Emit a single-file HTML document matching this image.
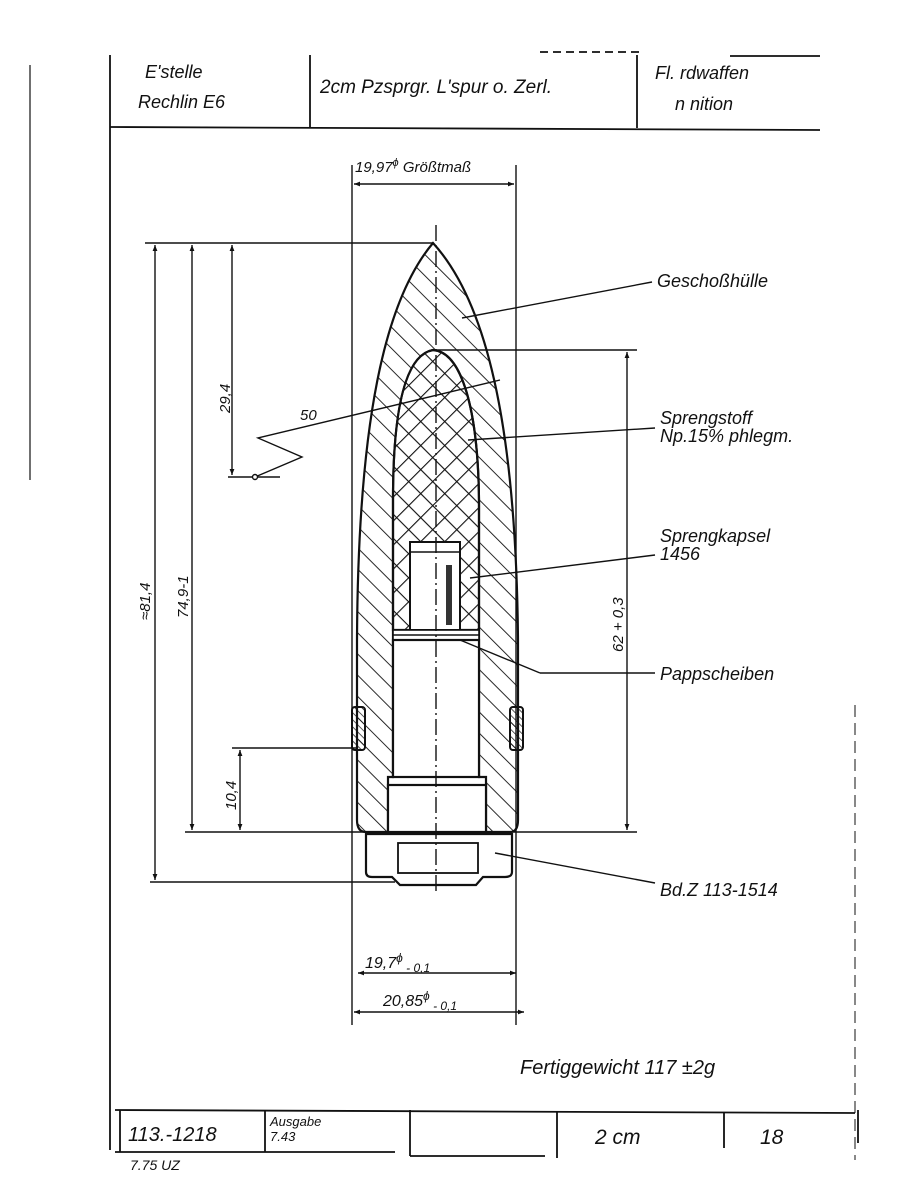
<!DOCTYPE html>
<html><head><meta charset="utf-8"><style>
html,body{margin:0;padding:0;background:#fff;}
svg{display:block;}
text{font-family:"Liberation Sans",sans-serif;font-style:italic;fill:#111;}
</style></head><body>
<svg width="913" height="1200" viewBox="0 0 913 1200" xmlns="http://www.w3.org/2000/svg">
<defs>
<pattern id="h1" width="15" height="15" patternUnits="userSpaceOnUse" patternTransform="rotate(-45)">
<line x1="0" y1="0" x2="0" y2="15" stroke="#111" stroke-width="1.8"/></pattern>
<pattern id="h2" width="17" height="17" patternUnits="userSpaceOnUse" patternTransform="rotate(45)">
<line x1="0" y1="0" x2="0" y2="17" stroke="#111" stroke-width="2.2"/><line x1="0" y1="0" x2="17" y2="0" stroke="#111" stroke-width="2.2"/></pattern>
<pattern id="h3" width="5" height="5" patternUnits="userSpaceOnUse" patternTransform="rotate(-45)">
<line x1="0" y1="0" x2="0" y2="5" stroke="#111" stroke-width="1.4"/></pattern>
<marker id="a" viewBox="0 0 10 10" refX="10" refY="5" markerWidth="10" markerHeight="6" orient="auto-start-reverse" markerUnits="userSpaceOnUse"><path d="M0,1 L10,5 L0,9 z" fill="#111"/></marker>
</defs>
<g stroke="#111" fill="none" stroke-width="1.8">
<line x1="110" y1="55" x2="110" y2="1150"/>
<line x1="110" y1="127" x2="820" y2="130"/>
<line x1="310" y1="55" x2="310" y2="127"/>
<line x1="637" y1="55" x2="637" y2="128"/>
<line x1="540" y1="52" x2="640" y2="52" stroke-dasharray="8 5"/>
<line x1="730" y1="56" x2="820" y2="56"/>
<line x1="30" y1="65" x2="30" y2="480" stroke-width="1.2"/>
<line x1="855" y1="705" x2="855" y2="1160" stroke-width="1" stroke-dasharray="12 6"/>
<line x1="115" y1="1110" x2="855" y2="1113"/>
<line x1="115" y1="1152" x2="395" y2="1152"/>
<line x1="410" y1="1156" x2="545" y2="1156"/>
<line x1="120" y1="1110" x2="120" y2="1152"/>
<line x1="265" y1="1110" x2="265" y2="1152"/>
<line x1="410" y1="1110" x2="410" y2="1156"/>
<line x1="557" y1="1112" x2="557" y2="1158"/>
<line x1="724" y1="1112" x2="724" y2="1148"/>
<line x1="858" y1="1110" x2="858" y2="1143"/>
</g>
<path d="M433,243 C385,300 358,420 357,640 L357,820 Q357,832 366,832 L510,832 Q518,832 518,820 L518,640 C516,420 485,300 433,243 Z M433,350 C405,355 393,410 393,500 L393,777 L388,777 L388,832 L486,832 L486,777 L479,777 L479,500 C478,410 462,352 433,350 Z" fill="url(#h1)" fill-rule="evenodd" stroke="#111" stroke-width="2.2"/>
<path d="M433,350 C405,355 393,410 393,500 L393,630 L479,630 L479,500 C478,410 462,352 433,350 Z" fill="url(#h2)" stroke="#111" stroke-width="2.2"/>
<rect x="410" y="542" width="50" height="88" fill="#fff" stroke="#111" stroke-width="2"/>
<line x1="410" y1="552" x2="460" y2="552" stroke="#111" stroke-width="1.5"/>
<path d="M446,565 L452,565 L452,625 L446,625 Z" fill="#333"/>
<rect x="393" y="630" width="86" height="10" fill="#fff" stroke="#111" stroke-width="1.6"/>
<line x1="393" y1="635" x2="479" y2="635" stroke="#111" stroke-width="1.5"/>
<rect x="393" y="640" width="86" height="137" fill="#fff" stroke="#111" stroke-width="2.2"/>
<rect x="388" y="785" width="98" height="47" fill="#fff" stroke="#111" stroke-width="2.2"/>
<rect x="352" y="707" width="13" height="43" rx="3" fill="url(#h3)" stroke="#111" stroke-width="2"/>
<rect x="510" y="707" width="13" height="43" rx="3" fill="url(#h3)" stroke="#111" stroke-width="2"/>
<path d="M366,834 L512,834 L512,872 Q512,877 505,877 L483,877 L476,885 L400,885 L392,877 L372,877 Q366,877 366,872 Z" fill="#fff" stroke="#111" stroke-width="2.2"/>
<rect x="398" y="843" width="80" height="30" fill="none" stroke="#111" stroke-width="1.8"/>
<g stroke="#111" fill="none" stroke-width="1.4">
<line x1="436" y1="225" x2="436" y2="895" stroke-dasharray="16 4 2 4"/>
<line x1="352" y1="165" x2="352" y2="1025"/>
<line x1="516" y1="165" x2="516" y2="1025"/>
<line x1="145" y1="243" x2="433" y2="243"/>
<line x1="433" y1="350" x2="637" y2="350"/>
<line x1="228" y1="477" x2="280" y2="477"/>
<line x1="185" y1="832" x2="637" y2="832"/>
<line x1="232" y1="748" x2="357" y2="748"/>
<line x1="150" y1="882" x2="395" y2="882"/>
<line x1="155" y1="245" x2="155" y2="880" marker-start="url(#a)" marker-end="url(#a)"/>
<line x1="192" y1="245" x2="192" y2="830" marker-start="url(#a)" marker-end="url(#a)"/>
<line x1="232" y1="245" x2="232" y2="475" marker-start="url(#a)" marker-end="url(#a)"/>
<line x1="240" y1="750" x2="240" y2="830" marker-start="url(#a)" marker-end="url(#a)"/>
<line x1="627" y1="352" x2="627" y2="830" marker-start="url(#a)" marker-end="url(#a)"/>
<line x1="354" y1="184" x2="514" y2="184" marker-start="url(#a)" marker-end="url(#a)"/>
<line x1="358" y1="973" x2="516" y2="973" marker-start="url(#a)" marker-end="url(#a)"/>
<line x1="354" y1="1012" x2="524" y2="1012" marker-start="url(#a)" marker-end="url(#a)"/>
<polyline points="255,477 302,457 258,438 500,380"/>
<circle cx="255" cy="477" r="2.5" fill="#fff"/>
<line x1="462" y1="318" x2="652" y2="282"/>
<line x1="468" y1="440" x2="655" y2="428"/>
<line x1="470" y1="578" x2="655" y2="555"/>
<line x1="460" y1="640" x2="540" y2="673"/>
<line x1="540" y1="673" x2="655" y2="673"/>
<line x1="495" y1="853" x2="655" y2="883"/>
</g>
<g font-size="18">
<text x="145" y="78">E'stelle</text>
<text x="138" y="108">Rechlin E6</text>
<text x="320" y="93" font-size="19">2cm Pzsprgr. L'spur o. Zerl.</text>
<text x="655" y="79">Fl.   rdwaffen</text>
<text x="675" y="110">n   nition</text>
<text x="355" y="172" font-size="15">19,97<tspan dy="-6" font-size="11">ϕ</tspan><tspan dy="6"> Größtmaß</tspan></text>
<text x="657" y="287">Geschoßhülle</text>
<text x="660" y="424">Sprengstoff</text>
<text x="660" y="442">Np.15% phlegm.</text>
<text x="660" y="542">Sprengkapsel</text>
<text x="660" y="560">1456</text>
<text x="660" y="680">Pappscheiben</text>
<text x="660" y="896">Bd.Z 113-1514</text>
<text x="300" y="420" font-size="15" font-style="normal">50</text>
<text transform="translate(150,620) rotate(-90)" font-size="15">≈81,4</text>
<text transform="translate(188,618) rotate(-90)" font-size="15">74,9-1</text>
<text transform="translate(230,413) rotate(-90)" font-size="15">29,4</text>
<text transform="translate(236,810) rotate(-90)" font-size="15">10,4</text>
<text transform="translate(623,652) rotate(-90)" font-size="15">62 + 0,3</text>
<text x="365" y="968" font-size="16">19,7<tspan dy="-6" font-size="12">ϕ</tspan><tspan dy="10" font-size="12"> - 0,1</tspan></text>
<text x="383" y="1006" font-size="16">20,85<tspan dy="-6" font-size="12">ϕ</tspan><tspan dy="10" font-size="12"> - 0,1</tspan></text>
<text x="520" y="1074" font-size="20">Fertiggewicht 117 ±2g</text>
<text x="128" y="1141" font-size="20">113.-1218</text>
<text x="270" y="1126" font-size="13">Ausgabe</text>
<text x="270" y="1141" font-size="13">7.43</text>
<text x="595" y="1144" font-size="21">2 cm</text>
<text x="760" y="1144" font-size="21">18</text>
<text x="130" y="1170" font-size="14" fill="#555">7.75 UZ</text>
</g>
</svg>
</body></html>
